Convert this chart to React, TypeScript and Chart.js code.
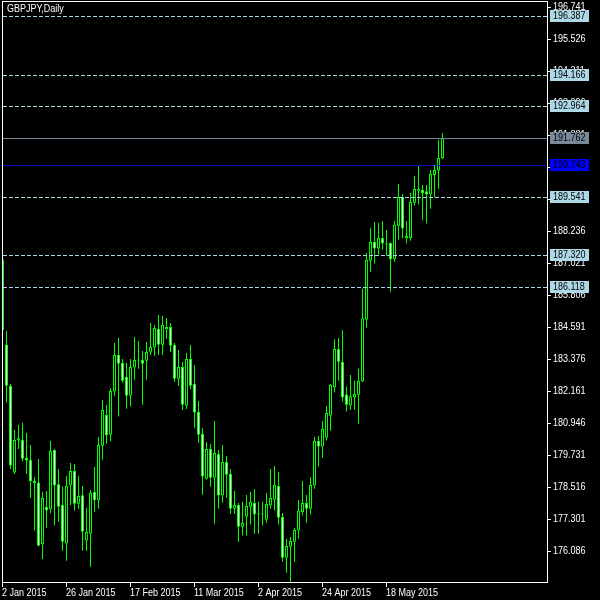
import React, { useEffect, useRef } from "react";
import { Chart, registerables } from "chart.js";

Chart.register(...registerables);

const SYMBOL_TITLE = "GBPJPY,Daily";

const OPEN = [
  187.15, 183.93, 182.35, 179.07, 180.28, 180.30, 179.62, 179.54, 178.74, 178.69,
  176.34, 177.76, 177.67, 179.92, 178.62, 177.83, 176.37, 178.57, 179.12, 177.88,
  178.20, 176.48, 176.74, 178.33, 178.01, 180.08, 181.25, 180.50, 182.14, 183.53,
  183.22, 182.69, 181.98, 183.05, 183.34, 183.34, 183.31, 183.62, 183.81, 184.52,
  183.92, 184.51, 184.59, 183.91, 182.63, 183.07, 181.60, 183.38, 182.43, 181.36,
  180.53, 178.83, 179.96, 178.87, 179.77, 178.19, 179.47, 179.01, 177.69, 177.83,
  177.01, 177.39, 177.77, 177.91, 177.47, 177.49, 177.27, 177.81, 178.03, 178.55,
  177.38, 175.83, 176.25, 176.44, 176.86, 177.57, 177.91, 177.69, 178.57, 180.26,
  180.05, 180.39, 181.22, 182.29, 183.76, 183.26, 182.03, 181.61, 181.91, 182.02,
  182.52, 184.87, 187.11, 187.82, 187.57, 187.97, 187.76, 187.78, 187.16, 188.44,
  189.53, 187.95, 187.97, 189.31, 189.83, 189.79, 189.75, 189.62, 190.36, 190.53,
  191.01,
];
const HIGH = [
  187.20, 184.44, 182.43, 180.68, 180.87, 180.96, 180.57, 180.11, 178.89, 179.58,
  178.33, 178.36, 180.26, 179.95, 179.20, 178.53, 178.93, 179.43, 179.39, 178.93,
  178.55, 177.72, 178.40, 179.28, 180.41, 181.82, 181.63, 182.27, 183.98, 184.17,
  183.38, 183.22, 183.38, 184.21, 184.06, 183.68, 184.02, 184.74, 184.67, 185.05,
  185.01, 184.93, 184.74, 183.98, 183.72, 183.26, 183.60, 183.91, 183.15, 181.78,
  180.76, 180.22, 180.15, 181.02, 179.92, 180.11, 179.69, 179.20, 178.36, 177.91,
  177.96, 178.21, 178.33, 178.44, 177.96, 177.96, 178.29, 179.20, 179.31, 179.09,
  177.53, 176.54, 176.62, 176.96, 178.02, 178.74, 178.21, 178.89, 180.41, 180.45,
  181.02, 181.59, 182.43, 184.13, 184.17, 184.48, 182.33, 182.77, 182.55, 183.01,
  186.04, 187.40, 188.36, 188.58, 188.54, 188.62, 188.27, 187.80, 188.62, 190.02,
  189.64, 188.62, 189.68, 190.33, 190.70, 189.98, 189.98, 190.55, 190.74, 191.69,
  191.96,
];
const LOW = [
  184.45, 181.72, 179.19, 179.01, 179.96, 179.48, 179.01, 178.11, 176.86, 176.27,
  175.78, 176.97, 177.52, 177.05, 177.20, 176.10, 175.72, 177.83, 177.62, 177.69,
  176.10, 176.10, 175.49, 177.58, 177.69, 179.55, 180.16, 180.24, 181.98, 181.19,
  182.48, 181.49, 181.57, 182.59, 183.01, 181.64, 182.59, 183.53, 183.49, 183.53,
  183.53, 184.14, 183.64, 182.50, 182.35, 181.44, 181.48, 182.24, 180.77, 180.20,
  178.22, 178.80, 178.53, 177.12, 177.69, 177.92, 178.11, 177.50, 177.50, 176.44,
  176.67, 176.67, 177.09, 176.74, 176.74, 177.05, 177.16, 177.69, 177.62, 177.09,
  175.68, 175.26, 174.92, 175.68, 176.55, 177.43, 177.16, 177.47, 178.45, 179.29,
  179.63, 180.28, 180.65, 182.10, 182.55, 181.76, 181.38, 181.45, 181.45, 180.92,
  182.50, 184.57, 186.69, 187.00, 187.34, 187.53, 187.30, 185.93, 187.07, 187.91,
  187.96, 187.76, 187.87, 189.20, 189.24, 188.65, 188.52, 189.08, 189.52, 189.84,
  190.96,
];
const CLOSE = [
  184.48, 182.36, 179.33, 180.30, 180.37, 179.59, 179.52, 178.73, 178.67, 176.29,
  178.10, 177.62, 179.88, 178.57, 177.77, 176.44, 178.55, 179.12, 177.88, 178.17,
  176.82, 176.81, 178.29, 178.01, 180.11, 181.44, 180.48, 182.16, 183.53, 183.20,
  182.55, 181.98, 183.07, 183.34, 183.32, 183.20, 183.64, 183.83, 184.55, 183.92,
  184.67, 184.59, 183.88, 182.63, 183.07, 181.64, 183.38, 182.36, 181.34, 180.50,
  178.91, 179.96, 178.87, 179.81, 178.19, 179.47, 178.98, 177.69, 177.83, 177.01,
  177.15, 177.79, 177.95, 177.47, 177.49, 177.47, 177.87, 178.10, 178.59, 177.35,
  175.83, 176.28, 176.47, 176.88, 177.61, 177.91, 177.69, 178.59, 180.26, 180.05,
  180.72, 181.33, 182.39, 183.76, 183.27, 181.91, 181.64, 181.96, 182.05, 182.54,
  184.92, 187.14, 187.82, 187.57, 187.97, 187.76, 187.72, 187.16, 188.47, 189.53,
  188.33, 188.05, 189.34, 189.83, 189.76, 189.68, 189.62, 190.40, 190.55, 191.01,
  191.762,
];

const X_TICK_INDEX = [0, 16, 32, 48, 64, 80, 96];
const X_TICK_LABELS = [
  "2 Jan 2015",
  "26 Jan 2015",
  "17 Feb 2015",
  "11 Mar 2015",
  "2 Apr 2015",
  "24 Apr 2015",
  "18 May 2015",
];
const Y_TICKS = [
  196.741, 195.526, 194.311, 193.096, 191.881, 190.666, 189.451, 188.236, 187.021,
  185.806, 184.591, 183.376, 182.161, 180.946, 179.731, 178.516, 177.301, 176.086,
];
const LEVEL_LINES = [196.387, 194.166, 192.964, 189.541, 187.32, 186.118];
const BID_LEVEL = 191.762;
const BLUE_LEVEL = 190.743;
const Y_MIN = 174.909;
const Y_MAX = 196.931;
const X_MIN = -0.125;
const X_MAX = 136.125;

export default function App() {
  const ref = useRef<HTMLCanvasElement>(null);

  useEffect(() => {
    const canvas = ref.current;
    if (!canvas) return;

    const fmt = (v: number) => v.toFixed(3);
    const drawText = (ctx: CanvasRenderingContext2D, text: string, x: number, y: number, color: string) => {
      ctx.save();
      ctx.translate(x, y);
      ctx.scale(0.9, 1);
      ctx.fillStyle = color;
      ctx.fillText(text, 0, 0);
      ctx.restore();
    };

    const overlay = {
      id: "mt4overlay",
      beforeDraw(chart: any) {
        const c = chart.ctx;
        c.save();
        c.fillStyle = "#000000";
        c.fillRect(0, 0, chart.width, chart.height);
        c.restore();
      },
      afterDatasetsDraw(chart: any) {
        const ctx: CanvasRenderingContext2D = chart.ctx;
        const ya = chart.scales.y;
        const xa = chart.scales.x;
        const area = chart.chartArea;
        const L = Math.round(area.left);
        const R = Math.round(area.right);
        const T = Math.round(area.top) - 1;
        const B = Math.round(area.bottom);
        ctx.save();

        const hline = (v: number, color: string, dash: number[]) => {
          const py = Math.round(ya.getPixelForValue(v)) + 0.5;
          ctx.beginPath();
          ctx.setLineDash(dash);
          ctx.strokeStyle = color;
          ctx.lineWidth = 1;
          ctx.moveTo(L + 1, py);
          ctx.lineTo(R, py);
          ctx.stroke();
        };
        LEVEL_LINES.forEach((v) => hline(v, "#ADD8E6", [4, 2]));
        hline(BLUE_LEVEL, "#1010FF", [3, 1]);
        hline(BID_LEVEL, "#778899", []);
        ctx.setLineDash([]);

        ctx.fillStyle = "#FFFFFF";
        ctx.fillRect(L, T, R - L + 1, 1);
        ctx.fillRect(L, B, R - L + 1, 1);
        ctx.fillRect(L, T, 1, B - T + 1);
        ctx.fillRect(R, T, 1, B - T + 1);

        ctx.font = '10px "Liberation Sans", Arial, sans-serif';
        ctx.textBaseline = "alphabetic";
        X_TICK_INDEX.forEach((idx, k) => {
          const px = Math.floor(xa.getPixelForValue(idx));
          ctx.fillStyle = "#FFFFFF";
          ctx.fillRect(px, B + 1, 1, 4);
          drawText(ctx, X_TICK_LABELS[k], px, 596, "#FFFFFF");
        });

        ctx.textBaseline = "middle";
        Y_TICKS.forEach((v) => {
          const py = Math.round(ya.getPixelForValue(v));
          ctx.fillStyle = "#FFFFFF";
          ctx.fillRect(R, py, 4, 1);
          drawText(ctx, fmt(v), R + 6, py + 0.5, "#FFFFFF");
        });

        const box = (v: number, bg: string, fg: string) => {
          const py = Math.round(ya.getPixelForValue(v));
          ctx.fillStyle = bg;
          ctx.fillRect(R + 3, py - 6, 39, 12);
          drawText(ctx, fmt(v), R + 6, py + 0.5, fg);
        };
        LEVEL_LINES.forEach((v) => box(v, "#ADD8E6", "#000000"));
        box(BID_LEVEL, "#778899", "#000000");
        box(BLUE_LEVEL, "#0000FF", "#000000");

        ctx.textBaseline = "alphabetic";
        drawText(ctx, SYMBOL_TITLE, 7, 12, "#FFFFFF");
        ctx.restore();
      },
    };

    const bodyData = OPEN.map((o, i) => ({ x: i, y: [o, CLOSE[i]] }));
    const wickData = HIGH.map((h, i) => ({ x: i, y: [LOW[i], h] }));
    const bodyFill = OPEN.map((o, i) => (CLOSE[i] < o ? "#FFFFFF" : "#000000"));

    const chart = new Chart(canvas, {
      type: "bar",
      data: {
        datasets: [
          {
            label: "body",
            data: bodyData as any,
            backgroundColor: bodyFill,
            borderColor: "#00FF00",
            borderWidth: 1,
            borderSkipped: false,
            barThickness: 3,
            grouped: false,
            order: 0,
            minBarLength: 1,
            inflateAmount: 0,
          } as any,
          {
            label: "wick",
            data: wickData as any,
            backgroundColor: "#00FF00",
            borderWidth: 0,
            barThickness: 1,
            grouped: false,
            order: 1,
            inflateAmount: 0,
          } as any,
        ],
      },
      options: {
        animation: false,
        responsive: false,
        devicePixelRatio: 1,
        events: [],
        layout: { padding: { left: 2, top: 2, right: 53, bottom: 18 } },
        plugins: { legend: { display: false }, tooltip: { enabled: false } },
        scales: {
          x: { type: "linear", display: false, min: X_MIN, max: X_MAX, offset: false, grid: { display: false } } as any,
          y: { type: "linear", display: false, min: Y_MIN, max: Y_MAX, grid: { display: false } },
        },
      },
      plugins: [overlay],
    });

    return () => chart.destroy();
  }, []);

  return (
    <div style={{ position: "fixed", left: 0, top: 0, width: 600, height: 600, background: "#000" }}>
      <canvas ref={ref} width={600} height={600} style={{ display: "block" }} />
    </div>
  );
}
